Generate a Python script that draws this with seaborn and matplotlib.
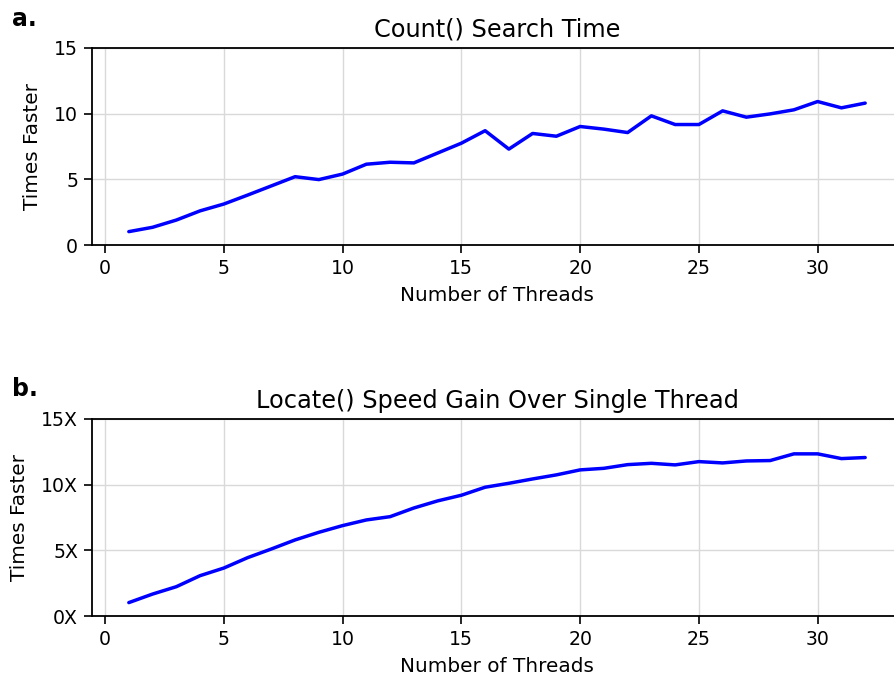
import numpy as np
import pandas as pd
import matplotlib
matplotlib.use('Agg')
import matplotlib.pyplot as plt
import seaborn as sns

# numero di thread (asse x)
threads = list(range(1, 33))

# speed-up della ricerca Count()
count_speedup = [1.02, 1.35, 1.9, 2.6, 3.12, 3.8, 4.5, 5.2, 4.98, 5.4,
                 6.15, 6.3, 6.25, 7.0, 7.75, 8.7, 7.3, 8.49, 8.28, 9.02,
                 8.82, 8.56, 9.83, 9.17, 9.17, 10.21, 9.73, 9.98, 10.29, 10.92,
                 10.44, 10.8]

# speed-up di Locate()
locate_speedup = [1.02, 1.67, 2.23, 3.07, 3.65, 4.44, 5.1, 5.79, 6.37, 6.88,
                  7.31, 7.56, 8.22, 8.76, 9.19, 9.8, 10.1, 10.43, 10.74, 11.12,
                  11.24, 11.52, 11.62, 11.5, 11.75, 11.65, 11.8, 11.83, 12.34, 12.34,
                  11.98, 12.06]

y_ticks = [0, 5, 10, 15]
locate_tick_labels = ['0X', '5X', '10X', '15X']

df = pd.DataFrame({'threads': threads, 'count': count_speedup, 'locate': locate_speedup})

sns.set_style('whitegrid', {'axes.edgecolor': 'black', 'grid.color': '#d9d9d9',
                            'xtick.bottom': True, 'ytick.left': True,
                            'text.color': 'black', 'axes.labelcolor': 'black'})
plt.rcParams['font.family'] = ['DejaVu Sans']

fig = plt.figure(figsize=(8.95, 6.75), dpi=100)
ax1 = fig.add_axes([0.1028, 0.637, 0.905, 0.292])
ax2 = fig.add_axes([0.1028, 0.0874, 0.905, 0.292])

sns.lineplot(data=df, x='threads', y='count', ax=ax1, color='blue', linewidth=2.5)
sns.lineplot(data=df, x='threads', y='locate', ax=ax2, color='blue', linewidth=2.5)

for ax, title in [(ax1, 'Count() Search Time'), (ax2, 'Locate() Speed Gain Over Single Thread')]:
    ax.set_xlim(-0.55, 33.55)
    ax.set_ylim(0, 15)
    ax.set_yticks(y_ticks)
    ax.set_xticks([0, 5, 10, 15, 20, 25, 30])
    ax.set_title(title, fontsize=17.3, pad=8, color='black')
    ax.set_xlabel('Number of Threads', fontsize=14.4, labelpad=6)
    ax.set_ylabel('Times Faster', fontsize=14.4, labelpad=9)
    ax.tick_params(labelsize=13.6, length=5.5, width=1.2, colors='black', pad=4.5)
    ax.grid(True, linewidth=1)
    for s in ax.spines.values():
        s.set_linewidth(1.3)
        s.set_color('black')

ax2.set_yticklabels(locate_tick_labels)

fig.text(0.013, 0.962, 'a.', fontsize=17, fontweight='bold', color='black')
fig.text(0.013, 0.414, 'b.', fontsize=17, fontweight='bold', color='black')

fig.savefig('out.png', dpi=100)
